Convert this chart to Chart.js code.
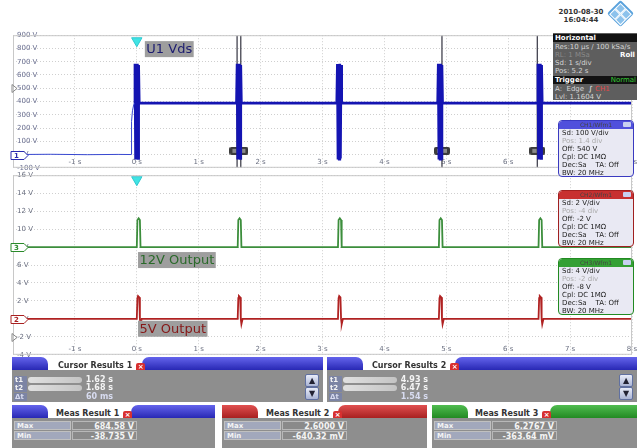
<!DOCTYPE html>
<html>
<head>
<meta charset="utf-8">
<script src="https://cdn.jsdelivr.net/npm/chart.js@4.4.1/dist/chart.umd.min.js"></script>
<style>
body { margin:0; width:637px; height:448px; background:#fff; position:relative; overflow:hidden; font-family:"DejaVu Sans", sans-serif; }
.abs { position:absolute; }
.date { left:552px; top:8px; width:58px; text-align:center; font:bold 7px/8px "DejaVu Sans"; color:#333; white-space:nowrap; }
.logo { left:611px; top:4px; width:19px; height:19px; background:#5aa2dc; transform:rotate(45deg); border-radius:2px; }
.logo i { position:absolute; width:6px; height:6px; border:1px solid #fff; background:#8cc2ec; }
.hz { left:553px; top:33px; width:84px; height:67px; background:#5e5e5e; color:#d4d4d4; font:7px/8px "DejaVu Sans"; white-space:nowrap; overflow:hidden; }
.hz div { padding-left:2px; height:8px; }
.hz .hd { background:#121212; color:#fff; font-weight:bold; height:8px; margin:1px 0; }
.hz .dim { color:#8a8a8a; }
.ch { left:558px; width:74px; height:55px; background:#e9e9f3; border:1px solid; border-radius:4px; font:7px/8px "DejaVu Sans"; color:#222; white-space:nowrap; overflow:hidden; }
.ch .chd { height:8px; color:#444; text-align:center; font-size:6px; border-radius:3px 3px 0 0; position:relative; }
.ch .chd b { position:absolute; right:2px; top:1px; width:8px; height:5px; background:#c8d0f0; border-radius:1px; }
.ch div.l { padding-left:3px; }
.ch .dim { color:#aaa; }
.pan { position:absolute; }
.pan .tl, .pan .tr { position:absolute; top:0; height:13px; }
.pan .tl { left:0; width:36px; border-radius:0 7px 0 0; }
.pan .tr { right:0; border-radius:7px 0 0 0; }
.pan .tt { position:absolute; top:4px; font:bold 8px "DejaVu Sans"; color:#333; white-space:nowrap; }
.pan .x { display:inline-block; width:9px; height:9px; background:#d83030; color:#fff; font:bold 7px/9px "DejaVu Sans"; text-align:center; border-radius:2px; margin-left:4px; vertical-align:-1px; }
.pan .bd { position:absolute; left:0; right:0; top:13px; bottom:0; background:#8e8e8e; }
.blue { background:linear-gradient(#6464ec,#2828b4); }
.red { background:linear-gradient(#e05050,#a82020); }
.green { background:linear-gradient(#50bc50,#228a22); }
.row { position:absolute; left:0; height:8px; font:bold 8px/8px "DejaVu Sans"; color:#f4f4f4; white-space:nowrap; }
.row .k { position:absolute; left:2px; width:12px; background:#7c84a4; padding-left:1px; font-size:7px; }
.row .pill { position:absolute; left:16px; width:54px; height:6px; top:1px; border-radius:3px; background:linear-gradient(90deg,#e0e0e0,#c4c4c4); }
.row .v { position:absolute; right:0; text-align:right; }
.mrow { position:absolute; left:2px; height:9px; font:bold 8px/9px "DejaVu Sans"; color:#f4f4f4; white-space:nowrap; }
.mrow .k { position:absolute; left:0; width:57px; height:9px; background:#a2a8bc; padding-left:2px; border:1px solid #c0c0c0; box-sizing:border-box; font-size:7px; }
.mrow .v { position:absolute; left:58px; width:65px; height:9px; text-align:right; padding-right:2px; background:#8a8a8a; border:1px solid #b8b8b8; box-sizing:border-box; }
.scr { position:absolute; right:4px; width:12px; height:11px; background:linear-gradient(#e8ecf8,#aab4d4); border:1px solid #6070a0; border-radius:2px; font:8px/11px "DejaVu Sans"; color:#223; text-align:center; }
</style>
</head>
<body>

<div class="abs" style="left:0;top:27px;width:639px;height:149px"><canvas id="vdsChart"></canvas></div>
<div class="abs" style="left:0;top:167px;width:639px;height:196px"><canvas id="outChart"></canvas></div>

<div class="abs date">2010-08-30<br>16:04:44</div>
<div class="abs logo"><i style="left:2px;top:2px"></i><i style="left:10px;top:2px"></i><i style="left:2px;top:10px"></i><i style="left:10px;top:10px"></i></div>

<div class="abs hz">
  <div class="hd">Horizontal</div>
  <div>Res:10 µs / 100 kSa/s</div>
  <div><span class="dim">RL: 1 MSa</span><b style="position:absolute;right:2px;color:#fff">Roll</b></div>
  <div>Sd: 1 s/div</div>
  <div>Pos: 5.2 s</div>
  <div class="hd">Trigger<span style="position:absolute;right:1px;color:#3c3;font-weight:normal">Normal</span></div>
  <div>A:&nbsp; Edge&nbsp; <b>∫</b> <span style="color:#e04848">CH1</span></div>
  <div>Lvl: 1.1604 V</div>
</div>

<div class="abs ch" style="top:120px;border-color:#3a3ac0">
  <div class="chd" style="background:#5050dc">CH1/Wfm1<b></b></div>
  <div class="l">Sd: 100 V/div</div>
  <div class="l dim">Pos: 1.4 div</div>
  <div class="l">Off: 540 V</div>
  <div class="l">Cpl: DC 1MΩ</div>
  <div class="l">Dec:Sa&nbsp;&nbsp;&nbsp; TA: Off</div>
  <div class="l">BW: 20 MHz</div>
</div>
<div class="abs ch" style="top:190px;border-color:#a02020">
  <div class="chd" style="background:#c83030">CH2/Wfm1<b></b></div>
  <div class="l">Sd: 2 V/div</div>
  <div class="l dim">Pos: -4 div</div>
  <div class="l">Off: -2 V</div>
  <div class="l">Cpl: DC 1MΩ</div>
  <div class="l">Dec:Sa&nbsp;&nbsp;&nbsp; TA: Off</div>
  <div class="l">BW: 20 MHz</div>
</div>
<div class="abs ch" style="top:258px;border-color:#228a22">
  <div class="chd" style="background:#34a034">CH3/Wfm1<b></b></div>
  <div class="l">Sd: 4 V/div</div>
  <div class="l dim">Pos: -2 div</div>
  <div class="l">Off: -8 V</div>
  <div class="l">Cpl: DC 1MΩ</div>
  <div class="l">Dec:Sa&nbsp;&nbsp;&nbsp; TA: Off</div>
  <div class="l">BW: 20 MHz</div>
</div>

<!-- cursor results -->
<div class="pan" style="left:12px;top:357px;width:311px;height:45px">
  <div class="tl blue"></div><div class="tr blue" style="width:181px"></div>
  <div class="tt" style="left:46px">Cursor Results 1<span class="x">×</span></div>
  <div class="bd"></div>
  <div class="row" style="top:19px;width:101px"><span class="k">t1</span><span class="pill"></span><span class="v">1.62 s</span></div>
  <div class="row" style="top:27px;width:101px"><span class="k">t2</span><span class="pill"></span><span class="v">1.68 s</span></div>
  <div class="row" style="top:36px;width:101px;color:#d8dcf0"><span class="k">Δt</span><span class="v">60 ms</span></div>
  <div class="scr" style="top:17px">▲</div><div class="scr" style="top:30px">▼</div>
</div>
<div class="pan" style="left:327px;top:357px;width:310px;height:45px">
  <div class="tl blue"></div><div class="tr blue" style="width:182px"></div>
  <div class="tt" style="left:45px">Cursor Results 2<span class="x">×</span></div>
  <div class="bd"></div>
  <div class="row" style="top:19px;width:101px"><span class="k">t1</span><span class="pill"></span><span class="v">4.93 s</span></div>
  <div class="row" style="top:27px;width:101px"><span class="k">t2</span><span class="pill"></span><span class="v">6.47 s</span></div>
  <div class="row" style="top:36px;width:101px;color:#d8dcf0"><span class="k">Δt</span><span class="v">1.54 s</span></div>
  <div class="scr" style="top:17px">▲</div><div class="scr" style="top:30px">▼</div>
</div>

<!-- measurement results -->
<div class="pan" style="left:12px;top:405px;width:203px;height:43px">
  <div class="tl blue"></div><div class="tr blue" style="width:84px"></div>
  <div class="tt" style="left:44px">Meas Result 1<span class="x">×</span></div>
  <div class="bd"></div>
  <div class="mrow" style="top:16px"><span class="k">Max</span><span class="v">684.58 V</span></div>
  <div class="mrow" style="top:26px"><span class="k">Min</span><span class="v">-38.735 V</span></div>
</div>
<div class="pan" style="left:222px;top:405px;width:205px;height:43px">
  <div class="tl red"></div><div class="tr red" style="width:89px"></div>
  <div class="tt" style="left:44px">Meas Result 2<span class="x">×</span></div>
  <div class="bd"></div>
  <div class="mrow" style="top:16px"><span class="k">Max</span><span class="v">2.6000 V</span></div>
  <div class="mrow" style="top:26px"><span class="k">Min</span><span class="v">-640.32 mV</span></div>
</div>
<div class="pan" style="left:432px;top:405px;width:205px;height:43px">
  <div class="tl green"></div><div class="tr green" style="width:87px"></div>
  <div class="tt" style="left:43px">Meas Result 3<span class="x">×</span></div>
  <div class="bd"></div>
  <div class="mrow" style="top:16px"><span class="k">Max</span><span class="v">6.2767 V</span></div>
  <div class="mrow" style="top:26px"><span class="k">Min</span><span class="v">-363.64 mV</span></div>
</div>

<script>
// time axis (s), shared by both grids
const timeMin = -2, timeMax = 8;

// CH1: U1 Vds (V) - before trigger (thin)
const vdsPreTime = [-2.0, -1.4, -0.8, -0.3, -0.09, -0.085, -0.07, -0.05, -0.04];
const vdsPreVolt = [0, 2, -1, 1, 0, 250, 330, 375, 388];

// CH1: U1 Vds (V) - after trigger, bursts at each switching event
const vdsTime = [
  -0.04, -0.03, -0.02, -0.01, 0.00, 0.01, 0.02, 0.03, 0.04,
  1.61, 1.62, 1.63, 1.64, 1.65, 1.66, 1.67, 1.68, 1.69,
  3.23, 3.24, 3.25, 3.26, 3.27, 3.28, 3.29, 3.30, 3.31,
  4.86, 4.87, 4.88, 4.89, 4.90, 4.91, 4.92, 4.93, 4.94,
  6.47, 6.48, 6.49, 6.50, 6.51, 6.52, 6.53, 6.54, 6.55,
  8.0
];
const vdsVolt = [
  388, 684, -38, 680, -36, 684, -30, 676, 388,
  388, 684, -38, 680, -36, 684, -30, 676, 388,
  388, 682, -38, 680, -36, 684, -30, 676, 388,
  388, 684, -38, 680, -36, 684, -30, 676, 388,
  388, 684, -38, 680, -36, 684, -30, 676, 388,
  388
];

// CH3: 12V output (V, displayed on shared grid)
const out12Time = [-2, 0.00, 0.01, 0.03, 0.05, 0.06, 1.63, 1.64, 1.66, 1.68, 1.69, 3.25, 3.26, 3.28, 3.30, 3.31,
  4.88, 4.89, 4.91, 4.93, 4.94, 6.49, 6.50, 6.52, 6.54, 6.55, 8];
const out12Volt = [8, 8, 11.0, 11.2, 11.0, 8, 8, 11.0, 11.2, 11.0, 8, 8, 11.0, 11.2, 11.0, 8,
  8, 11.0, 11.2, 11.0, 8, 8, 11.0, 11.2, 11.0, 8, 8];

// CH2: 5V output (V)
const out5Time = [-2, 0.00, 0.01, 0.02, 0.04, 0.05, 0.06, 0.08, 1.63, 1.64, 1.65, 1.67, 1.68, 1.69, 1.71,
  3.25, 3.26, 3.27, 3.29, 3.30, 3.31, 3.33, 4.88, 4.89, 4.90, 4.92, 4.93, 4.94, 4.96,
  6.49, 6.50, 6.51, 6.53, 6.54, 6.55, 6.57, 8];
const out5Volt = [0, 0, 2.3, 2.55, 2.4, 0, -0.6, 0, 0, 2.3, 2.55, 2.4, 0, -0.6, 0,
  0, 2.3, 2.55, 2.4, 0, -0.6, 0, 0, 2.3, 2.55, 2.4, 0, -0.6, 0,
  0, 2.3, 2.55, 2.4, 0, -0.6, 0, 0];

// cursors (s)
const cursor1 = [1.62, 1.68];
const cursor2 = [4.93, 6.47];

const pts = (xs, ys) => xs.map((x, i) => ({ x: x, y: ys[i] }));

function boxImg(w, h) {
  const c = document.createElement('canvas');
  c.width = w; c.height = h;
  const g = c.getContext('2d');
  g.fillStyle = '#3c3c3c';
  g.beginPath(); g.roundRect(0, 0, w, h, 2); g.fill();
  g.fillStyle = '#8a8a8a';
  g.fillRect(3, 2, w - 6, h - 4);
  return c;
}

const scopeDecor = {
  id: 'scopeDecor',
  afterDatasetsDraw(chart, args, opts) {
    const { ctx, chartArea: a, scales: { x, y } } = chart;
    ctx.save();
    ctx.strokeStyle = '#c8c8c8';
    ctx.lineWidth = 1;
    ctx.strokeRect(a.left + 0.5, a.top + 0.5, a.width - 1, a.height - 1);

    (opts.tags || []).forEach(t => {
      ctx.font = '13px "DejaVu Sans"';
      const px = x.getPixelForValue(t.t), py = y.getPixelForValue(t.v);
      const w = ctx.measureText(t.text).width + 3;
      ctx.fillStyle = '#9e9e9e';
      ctx.fillRect(px, py - 8, w, 16);
      ctx.fillStyle = t.color;
      ctx.textBaseline = 'middle';
      ctx.fillText(t.text, px + 1.5, py + 1);
    });

    (opts.markers || []).forEach(m => {
      const py = Math.round(y.getPixelForValue(m.v)) + 0.5;
      ctx.lineWidth = 1;
      if (m.arrow) {
        ctx.strokeStyle = '#888';
        ctx.beginPath();
        ctx.moveTo(12, py - 4); ctx.lineTo(17, py); ctx.lineTo(12, py + 4); ctx.closePath();
        ctx.stroke();
        return;
      }
      ctx.fillStyle = '#fff';
      ctx.strokeStyle = m.color;
      ctx.beginPath();
      ctx.moveTo(11, py - 4); ctx.lineTo(24, py - 4); ctx.lineTo(28, py);
      ctx.lineTo(24, py + 4); ctx.lineTo(11, py + 4); ctx.closePath();
      ctx.fill(); ctx.stroke();
      ctx.fillStyle = m.color;
      ctx.font = 'bold 7px "DejaVu Sans"';
      ctx.textBaseline = 'middle';
      ctx.fillText(m.text, 14, py + 0.5);
    });
    ctx.restore();
  }
};

const gridOpts = { color: '#cfcfcf', drawTicks: false };
const tickFont = { family: 'DejaVu Sans', size: 7 };

// top grid: U1 Vds
new Chart(document.getElementById('vdsChart'), {
  type: 'line',
  data: {
    datasets: [
      { data: pts(vdsPreTime, vdsPreVolt), borderColor: '#3848d0', borderWidth: 1, pointRadius: 0 },
      { data: pts(vdsTime, vdsVolt), borderColor: '#1414b2', borderWidth: 2.6, pointRadius: 0 },
      { data: pts([cursor1[0], cursor1[0]], [-100, 900]), borderColor: '#333340', borderWidth: 1.2, pointRadius: 0 },
      { data: pts([cursor1[1], cursor1[1]], [-100, 900]), borderColor: '#333340', borderWidth: 1.2, pointRadius: 0 },
      { data: pts([cursor2[0], cursor2[0]], [-100, 900]), borderColor: '#333340', borderWidth: 1.2, pointRadius: 0 },
      { data: pts([cursor2[1], cursor2[1]], [-100, 900]), borderColor: '#333340', borderWidth: 1.2, pointRadius: 0 },
      { data: pts([(cursor1[0] + cursor1[1]) / 2], [28]), showLine: false, pointStyle: boxImg(19, 8), pointRadius: 6 },
      { data: pts(cursor2, [28, 28]), showLine: false, pointStyle: boxImg(16, 8), pointRadius: 6 },
      { data: pts([0], [858]), showLine: false, pointStyle: 'triangle', rotation: 180, pointRadius: 6,
        backgroundColor: '#40e4e4', borderColor: '#30c8d0', borderWidth: 1, clip: false }
    ]
  },
  options: {
    responsive: true,
    maintainAspectRatio: false,
    animation: false,
    events: [],
    layout: { padding: { left: 5, top: 4, right: 0, bottom: 0 } },
    plugins: {
      legend: { display: false },
      tooltip: { enabled: false },
      scopeDecor: {
        tags: [{ text: 'U1 Vds', t: 0.13, v: 795, color: '#1c1c70' }],
        markers: [{ v: 0, text: '1', color: '#2a2ab0' }, { v: 500, arrow: true }]
      }
    },
    scales: {
      x: {
        type: 'linear', min: timeMin, max: timeMax,
        grid: gridOpts,
        border: { display: false, dash: [1, 2] },
        ticks: { stepSize: 1, mirror: true, padding: 1, color: '#6a6f80', font: tickFont,
          callback: v => (v === timeMin ? '' : v + ' s') }
      },
      y: {
        min: -100, max: 900,
        grid: gridOpts,
        border: { display: false, dash: [1, 2] },
        ticks: { stepSize: 100, mirror: true, padding: 4, color: '#6a6f90', font: tickFont,
          callback: v => v + ' V' }
      }
    }
  },
  plugins: [scopeDecor]
});

// bottom grid: 12V and 5V outputs
new Chart(document.getElementById('outChart'), {
  type: 'line',
  data: {
    datasets: [
      { data: pts(out12Time, out12Volt), borderColor: '#3c8e3c', borderWidth: 1.8, pointRadius: 0 },
      { data: pts(out5Time, out5Volt), borderColor: '#b02222', borderWidth: 1.8, pointRadius: 0 },
      { data: pts([0], [15.5]), showLine: false, pointStyle: 'triangle', rotation: 180, pointRadius: 6,
        backgroundColor: '#40e4e4', borderColor: '#30c8d0', borderWidth: 1, clip: false }
    ]
  },
  options: {
    responsive: true,
    maintainAspectRatio: false,
    animation: false,
    events: [],
    layout: { padding: { left: 5, top: 3, right: 0, bottom: 2 } },
    plugins: {
      legend: { display: false },
      tooltip: { enabled: false },
      scopeDecor: {
        tags: [
          { text: '12V Output', t: 0.02, v: 6.55, color: '#2a6a2a' },
          { text: '5V Output', t: 0.02, v: -1.1, color: '#861818' }
        ],
        markers: [
          { v: 8, text: '3', color: '#2a8a2a' },
          { v: 0, text: '2', color: '#a82020' },
          { v: -2, arrow: true }
        ]
      }
    },
    scales: {
      x: {
        type: 'linear', min: timeMin, max: timeMax,
        grid: gridOpts,
        border: { display: false, dash: [1, 2] },
        ticks: { stepSize: 1, mirror: true, padding: 1, color: '#6a6f80', font: tickFont,
          callback: v => (v === timeMin ? '' : v + ' s') }
      },
      y: {
        min: -4, max: 16,
        grid: gridOpts,
        border: { display: false, dash: [1, 2] },
        ticks: { stepSize: 2, mirror: true, padding: 4, color: '#6a6f80', font: tickFont,
          callback: v => v + ' V' }
      }
    }
  },
  plugins: [scopeDecor]
});
</script>
</body>
</html>
